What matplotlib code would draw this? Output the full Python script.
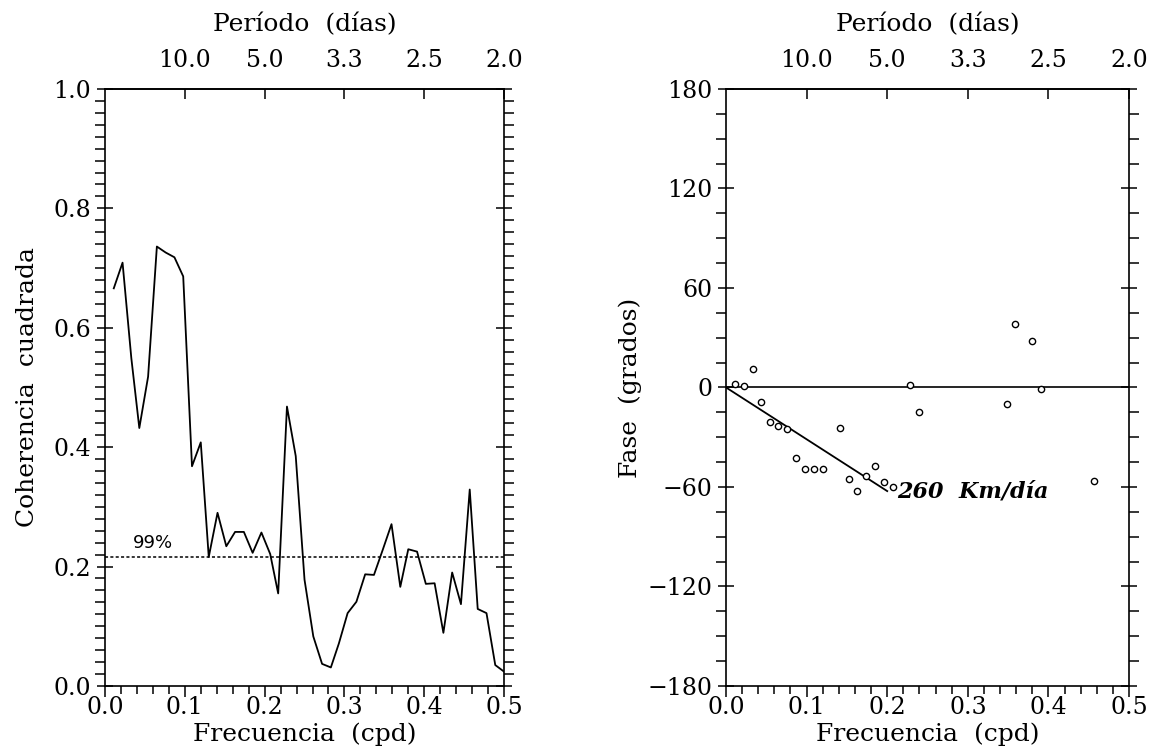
import matplotlib
matplotlib.use('Agg')
import matplotlib.pyplot as plt
from matplotlib.ticker import MultipleLocator

plt.rcParams['font.family'] = 'DejaVu Serif'
plt.rcParams['font.size'] = 17
plt.rcParams['axes.labelsize'] = 18
plt.rcParams['axes.linewidth'] = 1.2

# Coherencia cuadrada vs frecuencia (cpd)
frecuencia = [0.011, 0.022, 0.033, 0.043, 0.054, 0.065, 0.076, 0.087, 0.098, 0.109,
              0.120, 0.130, 0.141, 0.152, 0.163, 0.174, 0.185, 0.196, 0.207, 0.217,
              0.228, 0.239, 0.250, 0.261, 0.272, 0.283, 0.293, 0.304, 0.315, 0.326,
              0.337, 0.348, 0.359, 0.370, 0.380, 0.391, 0.402, 0.413, 0.424, 0.435,
              0.446, 0.457, 0.467, 0.478, 0.489, 0.500]
coherencia = [0.666, 0.709, 0.549, 0.432, 0.518, 0.736, 0.726, 0.718, 0.686, 0.368,
              0.408, 0.216, 0.290, 0.234, 0.258, 0.258, 0.223, 0.257, 0.221, 0.155,
              0.468, 0.385, 0.178, 0.083, 0.037, 0.031, 0.071, 0.122, 0.141, 0.187,
              0.186, 0.228, 0.271, 0.166, 0.229, 0.225, 0.171, 0.172, 0.089, 0.190,
              0.137, 0.329, 0.129, 0.122, 0.035, 0.024]
nivel_99 = 0.216

# Fase (grados) en las frecuencias con coherencia significativa
frec_fase = [0.011, 0.022, 0.033, 0.043, 0.054, 0.065, 0.076, 0.087, 0.098, 0.109,
             0.120, 0.141, 0.152, 0.163, 0.174, 0.185, 0.196, 0.207, 0.228, 0.239,
             0.348, 0.359, 0.380, 0.391, 0.457]
fase = [1.8, 0.8, 10.9, -8.6, -20.9, -23.3, -25.3, -42.4, -49.0, -49.0,
        -49.0, -24.3, -55.5, -62.5, -53.1, -47.4, -57.1, -59.9, 1.6, -14.9,
        -9.8, 38.0, 28.3, -1.2, -56.5]

# Recta de ajuste (260 Km/dia)
recta_frec = [0.0, 0.2]
recta_fase = [0.0, -62.5]

# Eje superior: periodo en dias
periodo_frec = [0.1, 0.2, 0.3, 0.4, 0.5]


def formato_ejes(ax, mayor_y, menor_y):
    ax.set_xlim(0, 0.5)
    ax.xaxis.set_major_locator(MultipleLocator(0.1))
    ax.xaxis.set_minor_locator(MultipleLocator(0.02))
    ax.yaxis.set_major_locator(MultipleLocator(mayor_y))
    ax.yaxis.set_minor_locator(MultipleLocator(menor_y))
    ax.tick_params(axis='y', which='both', left=True, right=True, width=1.1)
    ax.tick_params(axis='y', which='major', direction='inout', length=12, pad=4)
    ax.tick_params(axis='y', which='minor', direction='out', length=7)
    ax.tick_params(axis='x', which='both', direction='out', bottom=True, top=False,
                   width=1.1)
    ax.tick_params(axis='x', which='major', length=8, pad=-1)
    ax.tick_params(axis='x', which='minor', length=6)
    ax.xaxis.set_major_formatter(plt.FormatStrFormatter('%.1f'))
    ax.set_xlabel('Frecuencia  (cpd)', labelpad=3)

    sup = ax.secondary_xaxis('top')
    sup.set_xticks(periodo_frec, labels=[f'{1 / f:.1f}' for f in periodo_frec])
    sup.tick_params(direction='in', length=7, width=1.1, pad=12)
    sup.set_xlabel('Período  (días)', labelpad=13)


fig = plt.figure(figsize=(11.5, 7.51), dpi=100)

# Panel izquierdo: coherencia
ax1 = fig.add_axes([0.0913, 0.0866, 0.347, 0.795])
ax1.plot(frecuencia, coherencia, color='black', lw=1.3)
ax1.axhline(nivel_99, color='black', lw=1.1, ls=(0, (2, 1.5)))
ax1.text(0.06, nivel_99 + 0.008, '99%', family='DejaVu Sans', fontsize=13,
         ha='center', va='bottom')
ax1.set_ylim(0, 1.0)
formato_ejes(ax1, 0.2, 0.02)
ax1.yaxis.set_major_formatter(plt.FormatStrFormatter('%.1f'))
ax1.set_ylabel('Coherencia  cuadrada', labelpad=10)

# Panel derecho: fase
ax2 = fig.add_axes([0.6313, 0.0866, 0.3505, 0.795])
ax2.axhline(0, color='black', lw=1.2)
ax2.plot(recta_frec, recta_fase, color='black', lw=1.3)
ax2.plot(frec_fase, fase, 'o', mfc='white', mec='black', ms=4.5, mew=1.0)
ax2.text(recta_frec[1] + 0.012, recta_fase[1], '260  Km/día', style='italic',
         fontweight='bold', fontsize=16, ha='left', va='center')
ax2.set_ylim(-180, 180)
formato_ejes(ax2, 60, 15)
ax2.set_ylabel('Fase  (grados)', labelpad=4)

fig.savefig('out.png', dpi=100)
